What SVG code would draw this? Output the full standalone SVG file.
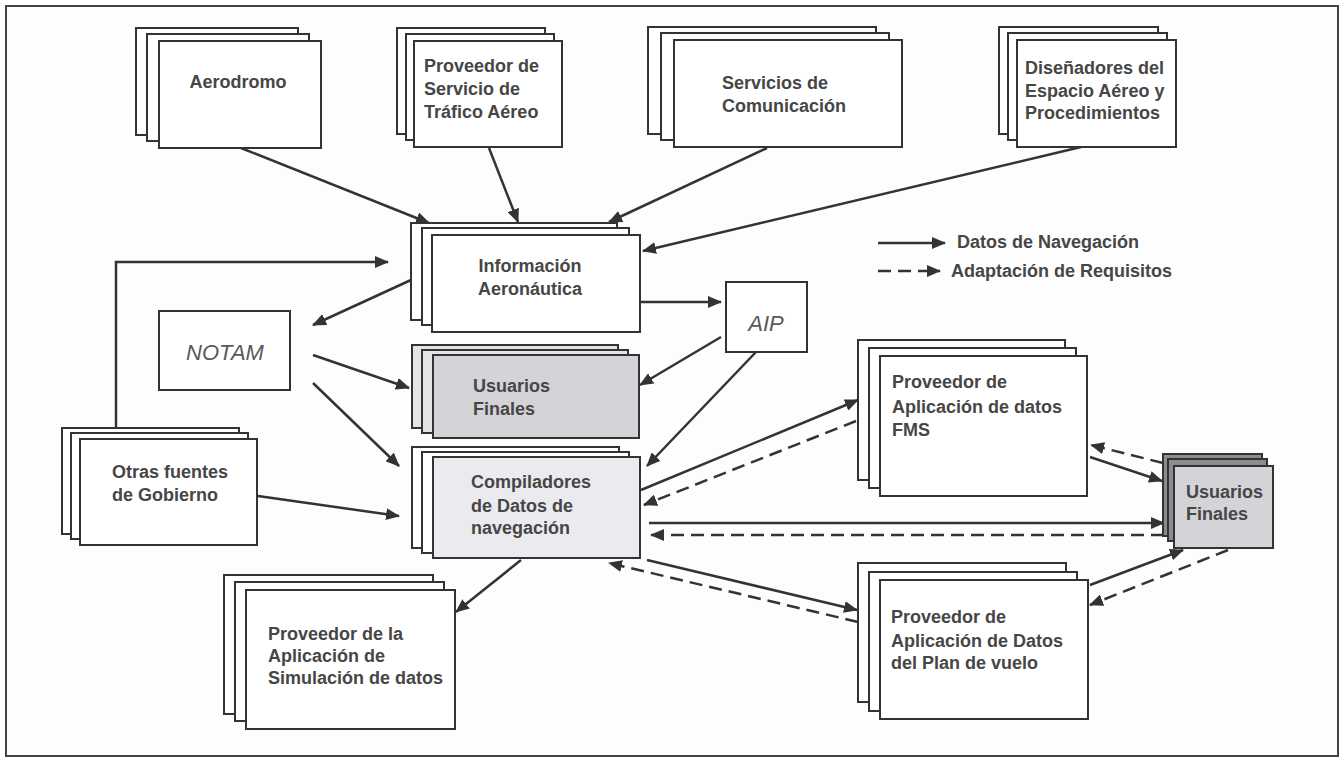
<svg xmlns="http://www.w3.org/2000/svg" width="1343" height="760" viewBox="0 0 1343 760">
<style>
.b{fill:#ffffff;stroke:#333333;stroke-width:2}
.g{fill:#d4d4d8;stroke:#333333;stroke-width:2}
.gl{fill:#e4e4e6;stroke:#333333;stroke-width:2}
.gd{fill:#8c8c90;stroke:#333333;stroke-width:2}
.c{fill:#ebebef;stroke:#333333;stroke-width:2}
.t{font-family:"Liberation Sans",Arial,sans-serif;font-size:18px;font-weight:bold;fill:#464646}
.i{font-family:"Liberation Sans",Arial,sans-serif;font-size:22px;font-style:italic;fill:#5a5a5a}
.s{fill:none;stroke:#333333;stroke-width:2.5;marker-end:url(#ah)}
.d{fill:none;stroke:#333333;stroke-width:2.5;stroke-dasharray:13 7;marker-end:url(#ah)}
</style>
<defs>
<marker id="ah" markerUnits="userSpaceOnUse" markerWidth="14" markerHeight="12" refX="13" refY="6" orient="auto">
<path d="M0,0 L14,6 L0,12 z" fill="#333333"/>
</marker>
</defs>
<rect x="0" y="0" width="1343" height="760" fill="#ffffff"/>
<rect x="6" y="6" width="1332" height="750" fill="#fdfdfd" stroke="#444444" stroke-width="2"/>

<g id="connectors">
<path class="s" d="M241,148 L429,223"/>
<path class="s" d="M489,148 L518,222"/>
<path class="s" d="M767,148 L609,222"/>
<path class="s" d="M1081,147 L643,251"/>
<path class="s" d="M116,428 V262 H388"/>
<path class="s" d="M411,280 L313,325"/>
<path class="s" d="M313,355 L409,388"/>
<path class="s" d="M313,383 L399,466"/>
<path class="s" d="M640,302 L721,302"/>
<path class="s" d="M721,337 L640,385"/>
<path class="s" d="M756,352 L647,466"/>
<path class="s" d="M258,496 L399,516"/>
<path class="s" d="M521,560 L456,612"/>
<path class="s" d="M641,490 L858,400"/>
<path class="d" d="M856,421 L644,505"/>
<path class="s" d="M649,523 L1164,523"/>
<path class="d" d="M1164,535 L651,535"/>
<path class="s" d="M647,560 L857,610"/>
<path class="d" d="M858,622 L609,563"/>
<path class="s" d="M1090,457 L1162,481"/>
<path class="d" d="M1163,463 L1091,445"/>
<path class="s" d="M1090,585 L1183,550"/>
<path class="d" d="M1228,550 L1090,605"/>
</g>

<g id="legend">
<path class="s" d="M878,243 L945,243"/>
<path class="d" d="M878,271 L940,271"/>
<text class="t" x="957" y="248">Datos de Navegación</text>
<text class="t" x="951" y="277">Adaptación de Requisitos</text>
</g>

<g id="aerodromo">
<rect class="b" x="136" y="28" width="162" height="107"/>
<rect class="b" x="147" y="34" width="162" height="107"/>
<rect class="b" x="159" y="41" width="162" height="107"/>
<text class="t" x="238" y="88" text-anchor="middle">Aerodromo</text>
</g>

<g id="proveedor-trafico">
<rect class="b" x="397" y="28" width="148" height="106"/>
<rect class="b" x="406" y="34" width="148" height="106"/>
<rect class="b" x="414" y="41" width="148" height="106"/>
<text class="t" x="424" y="72">Proveedor de</text>
<text class="t" x="424" y="95">Servicio de</text>
<text class="t" x="424" y="118">Tráfico Aéreo</text>
</g>

<g id="servicios-comunicacion">
<rect class="b" x="648" y="27" width="228" height="107"/>
<rect class="b" x="661" y="33" width="228" height="107"/>
<rect class="b" x="674" y="40" width="228" height="107"/>
<text class="t" x="722" y="89">Servicios de</text>
<text class="t" x="722" y="112">Comunicación</text>
</g>

<g id="disenadores">
<rect class="b" x="999" y="27" width="159" height="107"/>
<rect class="b" x="1008" y="33" width="159" height="107"/>
<rect class="b" x="1017" y="40" width="159" height="107"/>
<text class="t" x="1025" y="74">Diseñadores del</text>
<text class="t" x="1025" y="97">Espacio Aéreo y</text>
<text class="t" x="1025" y="119">Procedimientos</text>
</g>

<g id="informacion-aeronautica">
<rect class="b" x="411" y="223" width="206" height="97"/>
<rect class="b" x="422" y="228" width="207" height="97"/>
<rect class="b" x="432" y="235" width="208" height="97"/>
<text class="t" x="530" y="272" text-anchor="middle">Información</text>
<text class="t" x="530" y="295" text-anchor="middle">Aeronáutica</text>
</g>

<g id="notam">
<rect class="b" x="159" y="311" width="131" height="79"/>
<text class="i" x="225" y="360" text-anchor="middle">NOTAM</text>
</g>

<g id="aip">
<rect class="b" x="726" y="282" width="81" height="70"/>
<text class="i" x="766" y="331" text-anchor="middle">AIP</text>
</g>

<g id="usuarios-finales-centro">
<rect class="gl" x="412" y="345" width="206" height="83"/>
<rect class="gl" x="422" y="350" width="206" height="83"/>
<rect class="g" x="433" y="355" width="206" height="83"/>
<text class="t" x="473" y="392">Usuarios</text>
<text class="t" x="473" y="415">Finales</text>
</g>

<g id="compiladores">
<rect class="b" x="412" y="447" width="207" height="101"/>
<rect class="b" x="422" y="452" width="207" height="101"/>
<rect class="c" x="433" y="457" width="207" height="101"/>
<text class="t" x="471" y="488">Compiladores</text>
<text class="t" x="471" y="512">de Datos de</text>
<text class="t" x="471" y="534">navegación</text>
</g>

<g id="otras-fuentes">
<rect class="b" x="62" y="428" width="177" height="106"/>
<rect class="b" x="71" y="433" width="177" height="106"/>
<rect class="b" x="80" y="439" width="177" height="106"/>
<text class="t" x="112" y="478">Otras fuentes</text>
<text class="t" x="112" y="501">de Gobierno</text>
</g>

<g id="proveedor-simulacion">
<rect class="b" x="224" y="575" width="209" height="139"/>
<rect class="b" x="235" y="582" width="209" height="139"/>
<rect class="b" x="246" y="590" width="209" height="139"/>
<text class="t" x="268" y="640">Proveedor de la</text>
<text class="t" x="268" y="662">Aplicación de</text>
<text class="t" x="268" y="684">Simulación de datos</text>
</g>

<g id="proveedor-fms">
<rect class="b" x="858" y="340" width="207" height="140"/>
<rect class="b" x="869" y="348" width="207" height="140"/>
<rect class="b" x="880" y="356" width="207" height="140"/>
<text class="t" x="892" y="388">Proveedor de</text>
<text class="t" x="892" y="413">Aplicación de datos</text>
<text class="t" x="892" y="436">FMS</text>
</g>

<g id="proveedor-plan-vuelo">
<rect class="b" x="858" y="563" width="208" height="139"/>
<rect class="b" x="869" y="572" width="208" height="139"/>
<rect class="b" x="880" y="580" width="208" height="139"/>
<text class="t" x="891" y="623">Proveedor de</text>
<text class="t" x="891" y="647">Aplicación de Datos</text>
<text class="t" x="891" y="669">del Plan de vuelo</text>
</g>

<g id="usuarios-finales-derecha">
<rect class="gd" x="1163" y="454" width="99" height="82"/>
<rect class="gd" x="1168" y="459" width="99" height="82"/>
<rect class="g" x="1174" y="466" width="99" height="82"/>
<text class="t" x="1186" y="498">Usuarios</text>
<text class="t" x="1186" y="520">Finales</text>
</g>
</svg>
